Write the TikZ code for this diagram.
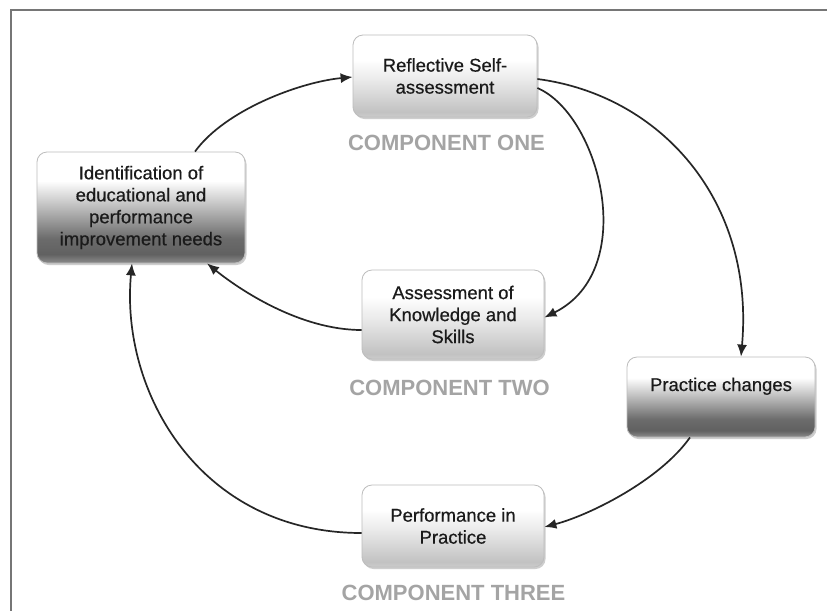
\documentclass[tikz,border=0pt]{standalone}
\usepackage{fontspec}
\setmainfont{Liberation Sans}
\newfontfamily\boxfont[FakeBold=0.5]{Liberation Sans}
\usetikzlibrary{arrows.meta,shadows,calc}
\definecolor{boxborder}{HTML}{BDBDBD}
\definecolor{comptext}{HTML}{A4A4A4}
\definecolor{frameline}{HTML}{767676}
\definecolor{boxtext}{HTML}{1A1A1A}
\pgfdeclareverticalshading{lightbox}{100bp}{color(0bp)=(black!20); color(25bp)=(black!20); color(28bp)=(black!24); color(48bp)=(black!8); color(60bp)=(white); color(100bp)=(white)}
\pgfdeclareverticalshading{darkbox}{100bp}{color(0bp)=(black!45); color(25bp)=(black!45); color(29bp)=(black!62); color(36bp)=(black!58); color(52bp)=(black!22); color(62bp)=(white); color(100bp)=(white)}
\tikzset{
  basebox/.style={draw=boxborder, line width=0.8pt, rounded corners=10pt,
    align=center, text=boxtext, font=\boxfont\fontsize{18.5}{22}\selectfont, inner sep=0pt,
    drop shadow={shadow xshift=1.5pt, shadow yshift=-2pt, opacity=0.35, fill=black!55}},
  lightbox/.style={basebox, shading=lightbox},
  darkbox/.style={basebox, shading=darkbox},
  complabel/.style={text=comptext, font=\bfseries\fontsize{22}{26}\selectfont, inner sep=0pt},
  flow/.style={draw=black!85, line width=1.7pt, -{Latex[length=12pt,width=10pt]}}
}
\begin{document}
\begin{tikzpicture}[x=1pt,y=-1pt]
\useasboundingbox (0,0) rectangle (827,611);
\fill[white] (0,0) rectangle (827,611);
% frame
\coordinate (fTL) at (11,10);
\coordinate (fTR) at (827,10);
\coordinate (fBL) at (11,611);
\draw[frameline, line width=1.5pt] (fTR) -- (fTL) -- (fBL);

% boxes
\node[lightbox, minimum width=184pt, minimum height=82pt] (refl) at (445,76) {Reflective Self-\\assessment};
\node[darkbox, minimum width=208pt, minimum height=111pt] (ident) at (141,207.5) {Identification of\\educational and\\performance\\improvement needs};
\node[lightbox, minimum width=182pt, minimum height=89pt] (assess) at (453,314.5) {Assessment of\\Knowledge and\\Skills};
\node[darkbox, minimum width=188pt, minimum height=80pt, text height=13pt, text depth=25pt] (practice) at (721,397) {Practice changes};
\node[lightbox, minimum width=182pt, minimum height=82pt] (perf) at (453,526) {Performance in\\Practice};

% component labels
\node[complabel] (c1) at (446.5,143) {COMPONENT ONE};
\node[complabel] (c2) at (449.5,388) {COMPONENT TWO};
\node[complabel] (c3) at (453.5,593) {COMPONENT THREE};

% connectors
\draw[flow] ($(ident.north)+(54,0)$) .. controls (225,110) and (300,82) .. ($(refl.west)+(0,1)$);
\draw[flow] ($(refl.east)+(0,12)$) .. controls (600,115) and (640,270) .. ($(assess.east)+(0,3)$);
\draw[flow] ($(refl.east)+(0,3)$) .. controls (660,95) and (755,200) .. ($(practice.north)+(20,0)$);
\draw[flow] ($(assess.west)+(0,15.5)$) .. controls (300,330) and (240,290) .. ($(ident.south)+(66,0)$);
\draw[flow] ($(practice.south)+(-31,0)$) .. controls (660,480) and (590,515) .. ($(perf.east)+(0,1)$);
\draw[flow] ($(perf.west)+(0,7)$) .. controls (200,533) and (120,392) .. ($(ident.south)+(-9,0)$);
\end{tikzpicture}
\end{document}
